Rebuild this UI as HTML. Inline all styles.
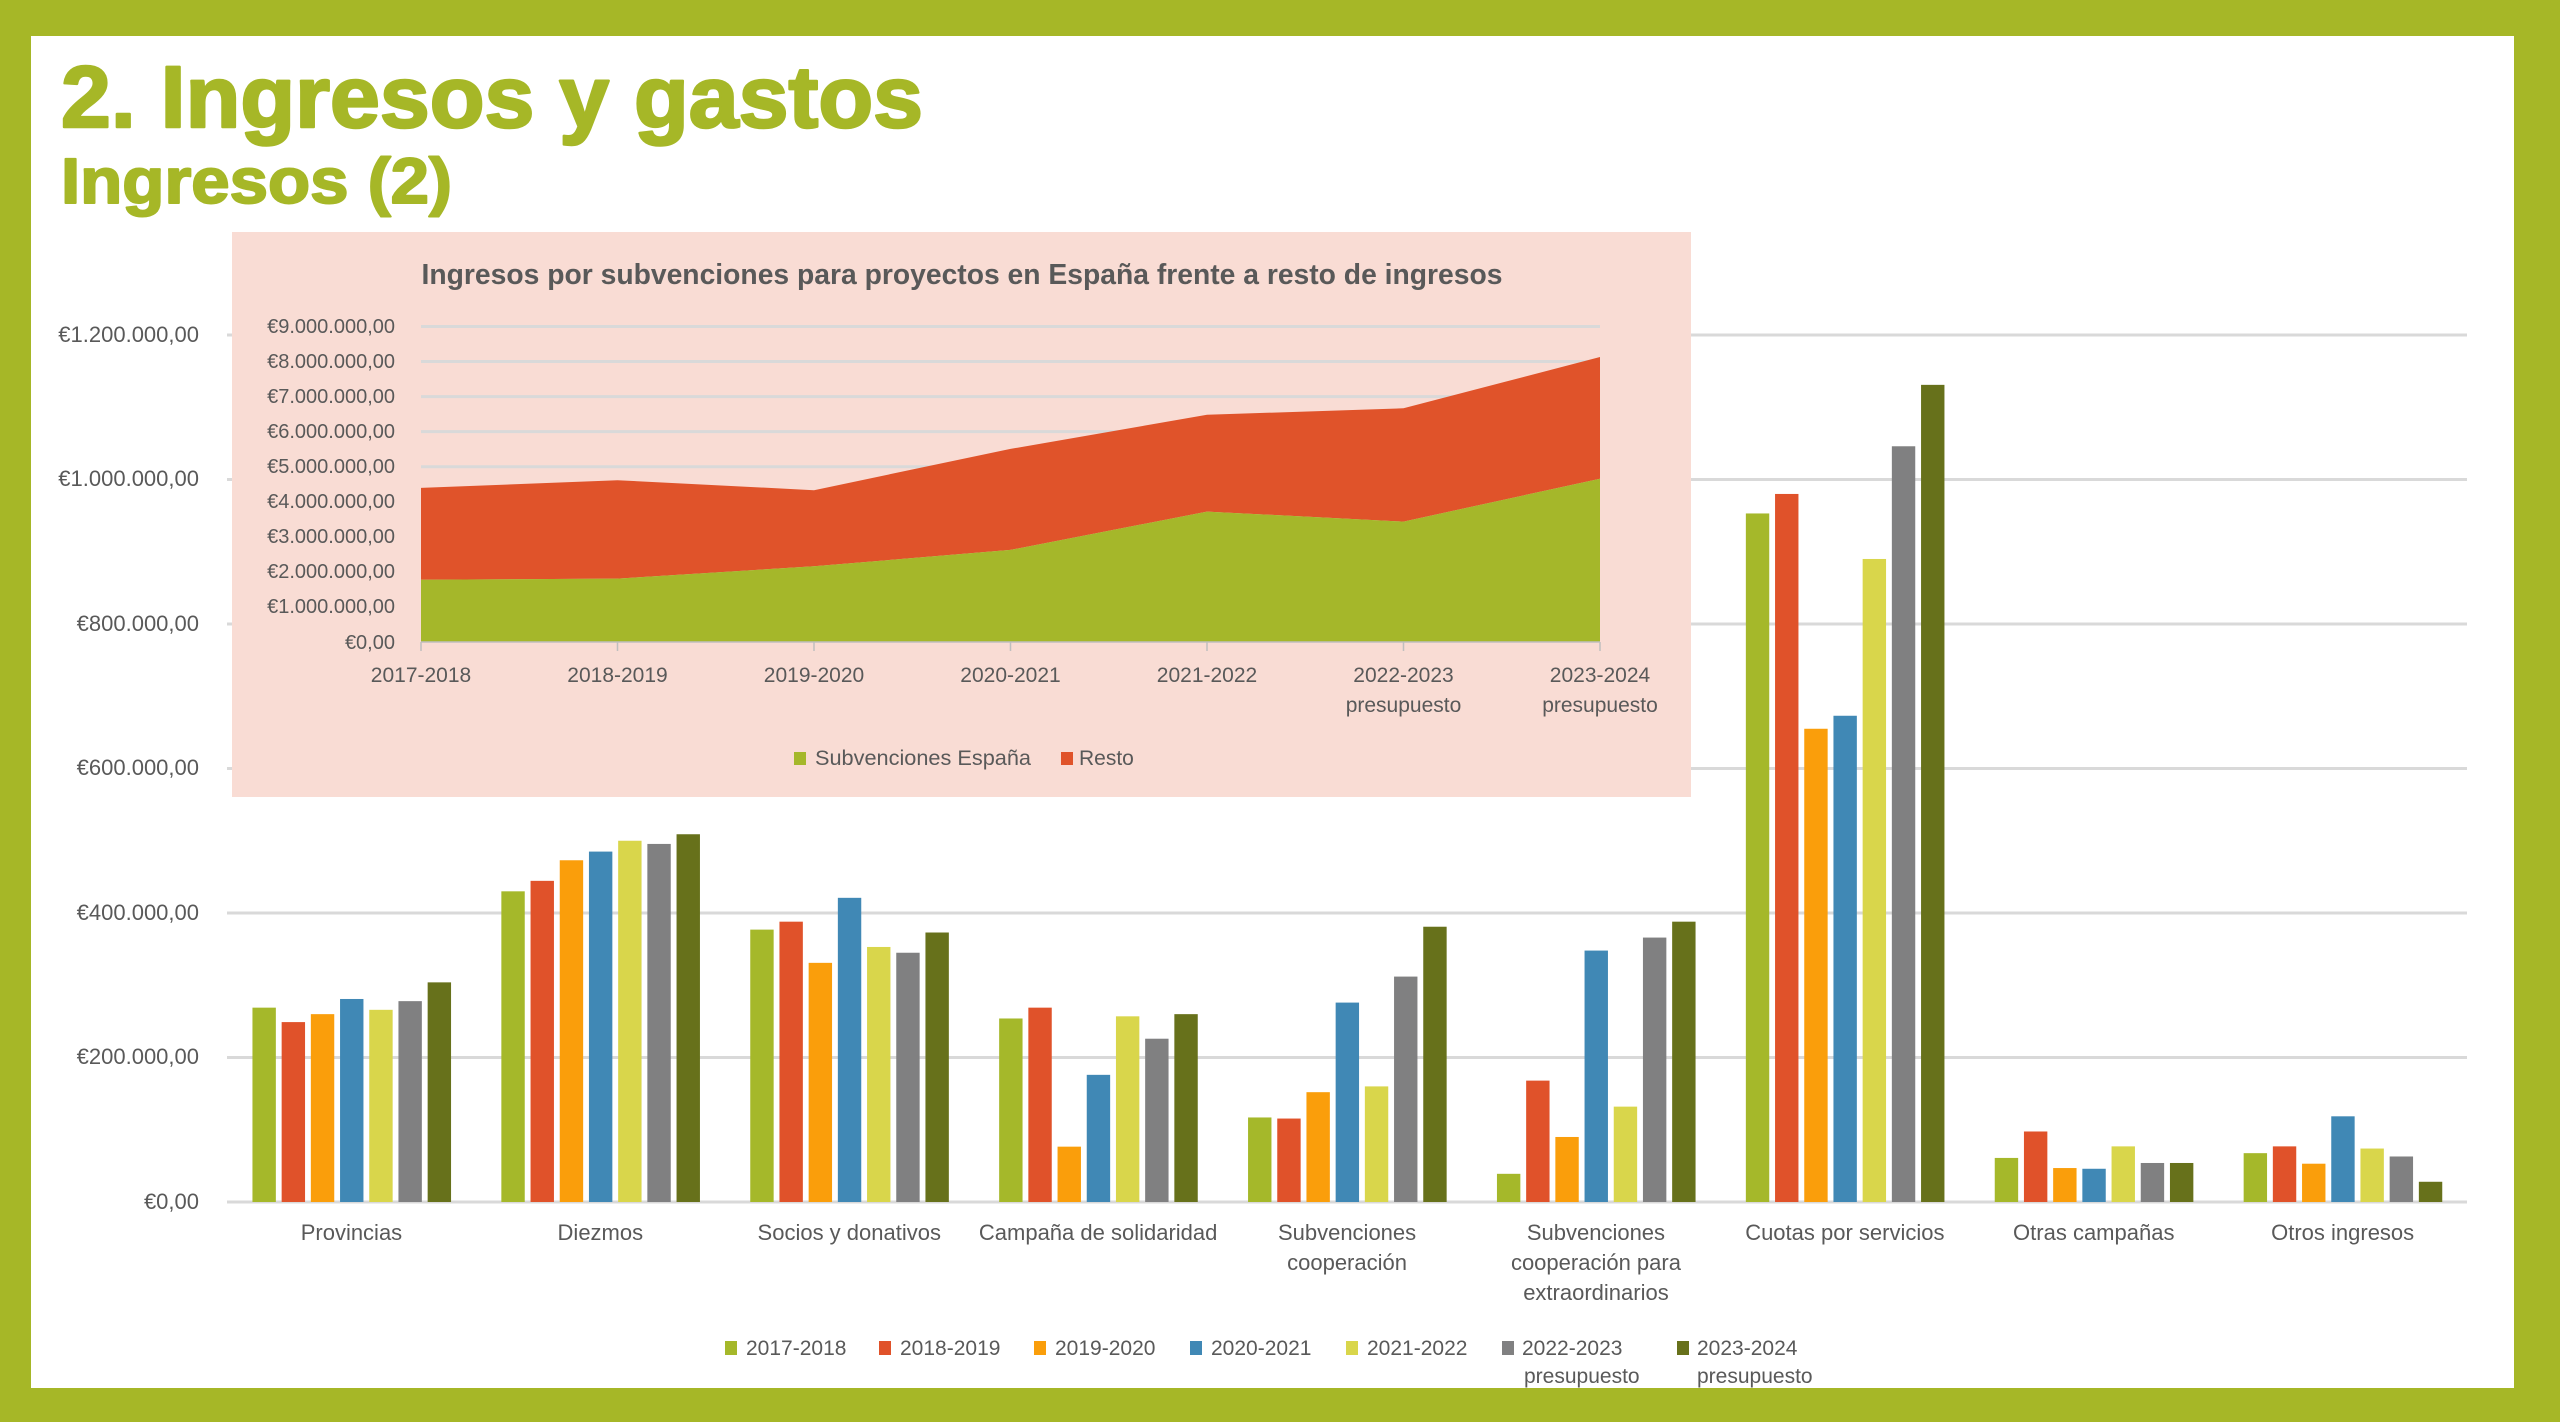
<!DOCTYPE html>
<html>
<head>
<meta charset="utf-8">
<style>
html,body{margin:0;padding:0;background:#a6b727;}
body{width:2560px;height:1422px;overflow:hidden;}
svg{display:block;}
.lbl{font-family:"Liberation Sans",sans-serif;fill:#595959;}
.c0{fill:#a5b82a}.c1{fill:#e0522a}.c2{fill:#fa9e0b}.c3{fill:#4088b5}.c4{fill:#d9d64b}.c5{fill:#808081}.c6{fill:#67711b}
</style>
</head>
<body>
<svg width="2560" height="1422" viewBox="0 0 2560 1422" xmlns="http://www.w3.org/2000/svg">
  <rect x="0" y="0" width="2560" height="1422" fill="#a6b727"/>
  <rect x="31" y="36" width="2483" height="1352" fill="#ffffff"/>

  <!-- Titles -->
  <text x="61" y="127" font-family="Liberation Sans, sans-serif" font-weight="bold" font-size="87" fill="#a6b727" stroke="#a6b727" stroke-width="2.5" stroke-linejoin="round" textLength="862" lengthAdjust="spacingAndGlyphs">2. Ingresos y gastos</text>
  <text x="61" y="203" font-family="Liberation Sans, sans-serif" font-weight="bold" font-size="64" fill="#a6b727" stroke="#a6b727" stroke-width="2" stroke-linejoin="round" textLength="391" lengthAdjust="spacingAndGlyphs">Ingresos (2)</text>

  <!-- Main gridlines -->
  <g stroke="#d9d9d9" stroke-width="3">
    <line x1="227" y1="335" x2="2467" y2="335"/>
    <line x1="227" y1="479.5" x2="2467" y2="479.5"/>
    <line x1="227" y1="624" x2="2467" y2="624"/>
    <line x1="227" y1="768.5" x2="2467" y2="768.5"/>
    <line x1="227" y1="913" x2="2467" y2="913"/>
    <line x1="227" y1="1057.5" x2="2467" y2="1057.5"/>
    <line x1="227" y1="1202" x2="2467" y2="1202"/>
  </g>

  <!-- Main y labels -->
  <g class="lbl" font-size="22" text-anchor="end">
    <text x="199" y="342">€1.200.000,00</text>
    <text x="199" y="486">€1.000.000,00</text>
    <text x="199" y="631">€800.000,00</text>
    <text x="199" y="775">€600.000,00</text>
    <text x="199" y="920">€400.000,00</text>
    <text x="199" y="1064">€200.000,00</text>
    <text x="199" y="1209">€0,00</text>
  </g>

  <!-- Bars -->
  <g transform="translate(351.45,1202) scale(1,-0.7225)">
    <rect class="c0" x="-99" y="0" width="23.4" height="269"/>
    <rect class="c1" x="-69.8" y="0" width="23.4" height="249"/>
    <rect class="c2" x="-40.6" y="0" width="23.4" height="260"/>
    <rect class="c3" x="-11.4" y="0" width="23.4" height="281"/>
    <rect class="c4" x="17.8" y="0" width="23.4" height="266"/>
    <rect class="c5" x="47" y="0" width="23.4" height="278"/>
    <rect class="c6" x="76.2" y="0" width="23.4" height="304"/>
  </g>
  <g transform="translate(600.35,1202) scale(1,-0.7225)">
    <rect class="c0" x="-99" y="0" width="23.4" height="430"/>
    <rect class="c1" x="-69.8" y="0" width="23.4" height="444.5"/>
    <rect class="c2" x="-40.6" y="0" width="23.4" height="473"/>
    <rect class="c3" x="-11.4" y="0" width="23.4" height="485"/>
    <rect class="c4" x="17.8" y="0" width="23.4" height="500"/>
    <rect class="c5" x="47" y="0" width="23.4" height="495.6"/>
    <rect class="c6" x="76.2" y="0" width="23.4" height="509"/>
  </g>
  <g transform="translate(849.25,1202) scale(1,-0.7225)">
    <rect class="c0" x="-99" y="0" width="23.4" height="377"/>
    <rect class="c1" x="-69.8" y="0" width="23.4" height="388"/>
    <rect class="c2" x="-40.6" y="0" width="23.4" height="331"/>
    <rect class="c3" x="-11.4" y="0" width="23.4" height="421"/>
    <rect class="c4" x="17.8" y="0" width="23.4" height="353"/>
    <rect class="c5" x="47" y="0" width="23.4" height="345"/>
    <rect class="c6" x="76.2" y="0" width="23.4" height="373"/>
  </g>
  <g transform="translate(1098.15,1202) scale(1,-0.7225)">
    <rect class="c0" x="-99" y="0" width="23.4" height="254"/>
    <rect class="c1" x="-69.8" y="0" width="23.4" height="269"/>
    <rect class="c2" x="-40.6" y="0" width="23.4" height="76.6"/>
    <rect class="c3" x="-11.4" y="0" width="23.4" height="176"/>
    <rect class="c4" x="17.8" y="0" width="23.4" height="257"/>
    <rect class="c5" x="47" y="0" width="23.4" height="226"/>
    <rect class="c6" x="76.2" y="0" width="23.4" height="260"/>
  </g>
  <g transform="translate(1347.05,1202) scale(1,-0.7225)">
    <rect class="c0" x="-99" y="0" width="23.4" height="117"/>
    <rect class="c1" x="-69.8" y="0" width="23.4" height="115.5"/>
    <rect class="c2" x="-40.6" y="0" width="23.4" height="152"/>
    <rect class="c3" x="-11.4" y="0" width="23.4" height="276"/>
    <rect class="c4" x="17.8" y="0" width="23.4" height="160"/>
    <rect class="c5" x="47" y="0" width="23.4" height="312"/>
    <rect class="c6" x="76.2" y="0" width="23.4" height="381"/>
  </g>
  <g transform="translate(1595.95,1202) scale(1,-0.7225)">
    <rect class="c0" x="-99" y="0" width="23.4" height="39"/>
    <rect class="c1" x="-69.8" y="0" width="23.4" height="168"/>
    <rect class="c2" x="-40.6" y="0" width="23.4" height="90"/>
    <rect class="c3" x="-11.4" y="0" width="23.4" height="348"/>
    <rect class="c4" x="17.8" y="0" width="23.4" height="132"/>
    <rect class="c5" x="47" y="0" width="23.4" height="366"/>
    <rect class="c6" x="76.2" y="0" width="23.4" height="388"/>
  </g>
  <g transform="translate(1844.85,1202) scale(1,-0.7225)">
    <rect class="c0" x="-99" y="0" width="23.4" height="953"/>
    <rect class="c1" x="-69.8" y="0" width="23.4" height="980"/>
    <rect class="c2" x="-40.6" y="0" width="23.4" height="655"/>
    <rect class="c3" x="-11.4" y="0" width="23.4" height="673"/>
    <rect class="c4" x="17.8" y="0" width="23.4" height="890"/>
    <rect class="c5" x="47" y="0" width="23.4" height="1046"/>
    <rect class="c6" x="76.2" y="0" width="23.4" height="1131"/>
  </g>
  <g transform="translate(2093.75,1202) scale(1,-0.7225)">
    <rect class="c0" x="-99" y="0" width="23.4" height="61"/>
    <rect class="c1" x="-69.8" y="0" width="23.4" height="97.6"/>
    <rect class="c2" x="-40.6" y="0" width="23.4" height="47"/>
    <rect class="c3" x="-11.4" y="0" width="23.4" height="46"/>
    <rect class="c4" x="17.8" y="0" width="23.4" height="77"/>
    <rect class="c5" x="47" y="0" width="23.4" height="54"/>
    <rect class="c6" x="76.2" y="0" width="23.4" height="54"/>
  </g>
  <g transform="translate(2342.65,1202) scale(1,-0.7225)">
    <rect class="c0" x="-99" y="0" width="23.4" height="67.6"/>
    <rect class="c1" x="-69.8" y="0" width="23.4" height="77"/>
    <rect class="c2" x="-40.6" y="0" width="23.4" height="53"/>
    <rect class="c3" x="-11.4" y="0" width="23.4" height="118.6"/>
    <rect class="c4" x="17.8" y="0" width="23.4" height="74"/>
    <rect class="c5" x="47" y="0" width="23.4" height="63"/>
    <rect class="c6" x="76.2" y="0" width="23.4" height="28"/>
  </g>

  <!-- Main x labels -->
  <g class="lbl" font-size="22" text-anchor="middle">
    <text x="351.45" y="1240">Provincias</text>
    <text x="600.35" y="1240">Diezmos</text>
    <text x="849.25" y="1240">Socios y donativos</text>
    <text x="1098.15" y="1240">Campaña de solidaridad</text>
    <text x="1347.05" y="1240">Subvenciones</text>
    <text x="1347.05" y="1270">cooperación</text>
    <text x="1595.95" y="1240">Subvenciones</text>
    <text x="1595.95" y="1270">cooperación para</text>
    <text x="1595.95" y="1300">extraordinarios</text>
    <text x="1844.85" y="1240">Cuotas por servicios</text>
    <text x="2093.75" y="1240">Otras campañas</text>
    <text x="2342.65" y="1240">Otros ingresos</text>
  </g>

  <!-- Main legend -->
  <g>
    <rect class="c0" x="725" y="1341" width="12" height="14"/>
    <rect class="c1" x="879" y="1341" width="12" height="14"/>
    <rect class="c2" x="1034" y="1341" width="12" height="14"/>
    <rect class="c3" x="1190" y="1341" width="12" height="14"/>
    <rect class="c4" x="1346" y="1341" width="12" height="14"/>
    <rect class="c5" x="1502" y="1341" width="12" height="14"/>
    <rect class="c6" x="1677" y="1341" width="12" height="14"/>
  </g>
  <g class="lbl" font-size="21">
    <text x="746" y="1355">2017-2018</text>
    <text x="900" y="1355">2018-2019</text>
    <text x="1055" y="1355">2019-2020</text>
    <text x="1211" y="1355">2020-2021</text>
    <text x="1367" y="1355">2021-2022</text>
    <text x="1522" y="1355">2022-2023</text>
    <text x="1524" y="1383">presupuesto</text>
    <text x="1697" y="1355">2023-2024</text>
    <text x="1697" y="1383">presupuesto</text>
  </g>

  <!-- Inner chart box -->
  <rect x="232" y="232" width="1459" height="565" fill="#f9dcd4"/>
  <text x="962" y="284" font-family="Liberation Sans, sans-serif" font-weight="bold" font-size="29" fill="#595959" text-anchor="middle" textLength="1081" lengthAdjust="spacingAndGlyphs">Ingresos por subvenciones para proyectos en España frente a resto de ingresos</text>

  <g stroke="#d9d9d9" stroke-width="3">
    <line x1="421" y1="326.5" x2="1600" y2="326.5"/>
    <line x1="421" y1="361.5" x2="1600" y2="361.5"/>
    <line x1="421" y1="396.6" x2="1600" y2="396.6"/>
    <line x1="421" y1="431.6" x2="1600" y2="431.6"/>
    <line x1="421" y1="466.7" x2="1600" y2="466.7"/>
    <line x1="421" y1="501.8" x2="1600" y2="501.8"/>
    <line x1="421" y1="536.8" x2="1600" y2="536.8"/>
    <line x1="421" y1="571.9" x2="1600" y2="571.9"/>
    <line x1="421" y1="606.9" x2="1600" y2="606.9"/>
  </g>

  <path d="M421,579.7 L617.5,578.6 L814,566.3 L1010.5,549.9 L1207,511.6 L1403.5,521.6 L1600,478.7 L1600,357 L1403.5,408.3 L1207,414.8 L1010.5,448.9 L814,490.2 L617.5,480.2 L421,487.9 Z" fill="#e0532a"/>
  <path d="M421,642 L421,579.7 L617.5,578.6 L814,566.3 L1010.5,549.9 L1207,511.6 L1403.5,521.6 L1600,478.7 L1600,642 Z" fill="#a5b72a"/>

  <g stroke="#bfbfbf" stroke-width="1.5">
    <line x1="421" y1="642" x2="1600" y2="642"/>
    <line x1="421" y1="642" x2="421" y2="651"/>
    <line x1="617.5" y1="642" x2="617.5" y2="651"/>
    <line x1="814" y1="642" x2="814" y2="651"/>
    <line x1="1010.5" y1="642" x2="1010.5" y2="651"/>
    <line x1="1207" y1="642" x2="1207" y2="651"/>
    <line x1="1403.5" y1="642" x2="1403.5" y2="651"/>
    <line x1="1600" y1="642" x2="1600" y2="651"/>
  </g>

  <g class="lbl" font-size="20" text-anchor="end">
    <text x="395" y="333">€9.000.000,00</text>
    <text x="395" y="368">€8.000.000,00</text>
    <text x="395" y="403">€7.000.000,00</text>
    <text x="395" y="438">€6.000.000,00</text>
    <text x="395" y="473">€5.000.000,00</text>
    <text x="395" y="508">€4.000.000,00</text>
    <text x="395" y="543">€3.000.000,00</text>
    <text x="395" y="578">€2.000.000,00</text>
    <text x="395" y="613">€1.000.000,00</text>
    <text x="395" y="649">€0,00</text>
  </g>

  <g class="lbl" font-size="21" text-anchor="middle">
    <text x="421" y="682">2017-2018</text>
    <text x="617.5" y="682">2018-2019</text>
    <text x="814" y="682">2019-2020</text>
    <text x="1010.5" y="682">2020-2021</text>
    <text x="1207" y="682">2021-2022</text>
    <text x="1403.5" y="682">2022-2023</text>
    <text x="1403.5" y="712">presupuesto</text>
    <text x="1600" y="682">2023-2024</text>
    <text x="1600" y="712">presupuesto</text>
  </g>

  <rect x="794" y="752" width="12" height="13" fill="#a5b72a"/>
  <rect x="1061" y="752" width="12" height="13" fill="#e0532a"/>
  <g class="lbl" font-size="21">
    <text x="815" y="765" textLength="216" lengthAdjust="spacingAndGlyphs">Subvenciones España</text>
    <text x="1079" y="765">Resto</text>
  </g>
</svg>
</body>
</html>
